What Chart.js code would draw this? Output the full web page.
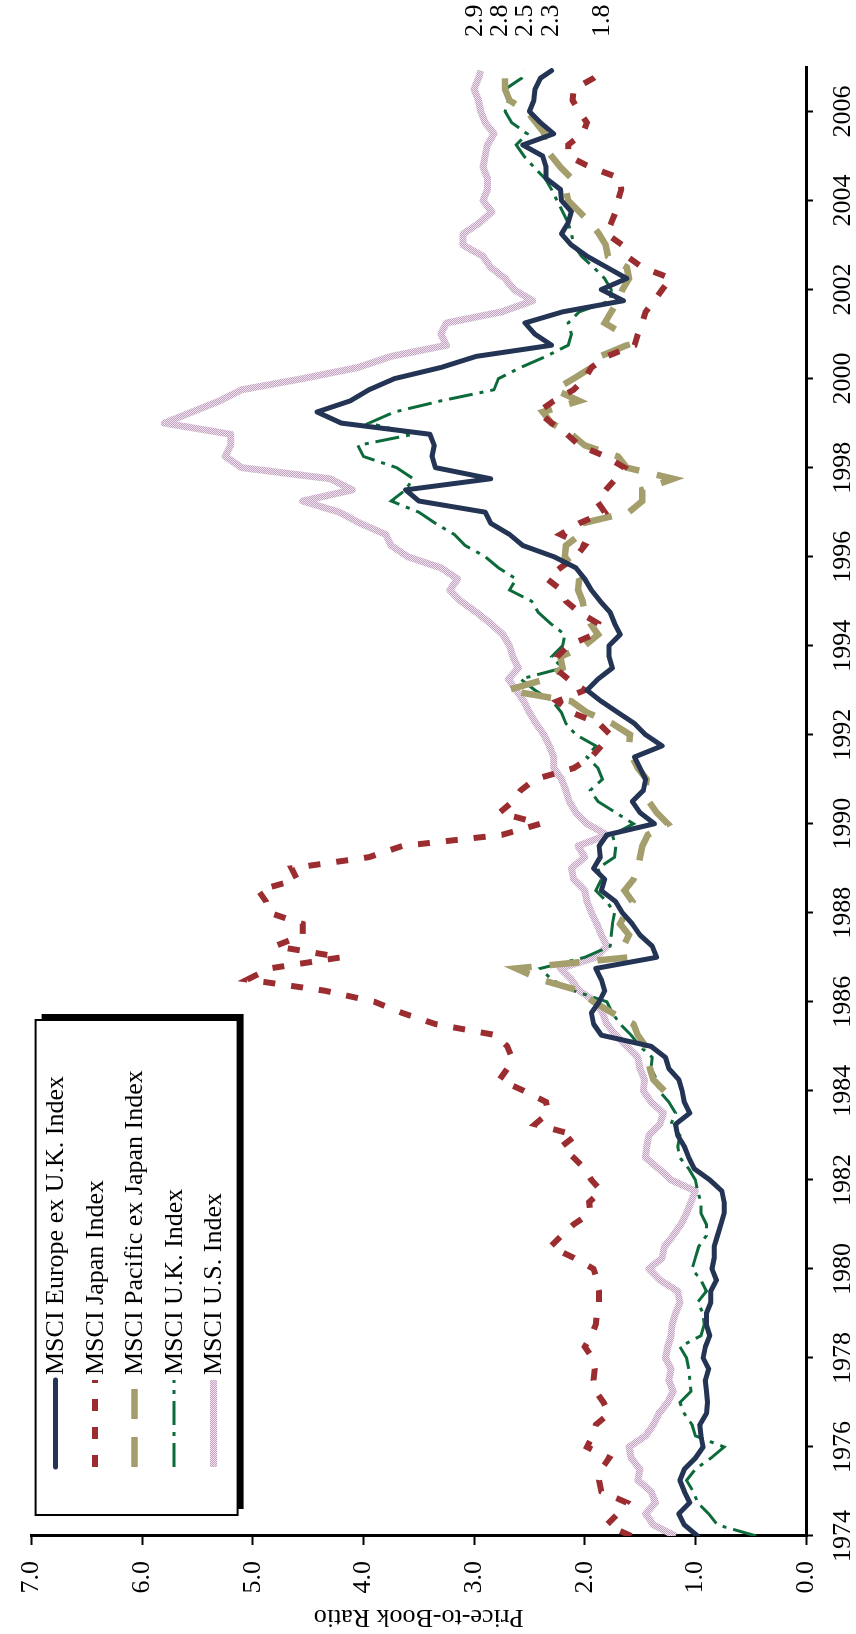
<!DOCTYPE html>
<html>
<head>
<meta charset="utf-8">
<script src="https://cdn.jsdelivr.net/npm/chart.js@4.4.0/dist/chart.umd.min.js"></script>
<style>
  html, body { margin:0; padding:0; background:#fff; overflow:hidden; }
  #page { position:relative; width:856px; height:1634px; overflow:hidden; background:#fff; }
  #rot { position:absolute; left:0; top:0; width:1634px; height:856px;
         transform-origin:0 0; transform:translateY(1634px) rotate(-90deg); }
  #pbChart { width:1634px; height:856px; display:block; }
</style>
</head>
<body>
<div id="page"><div id="rot"><canvas id="pbChart" width="1634" height="856"></canvas></div></div>
<script>
// quarterly observation dates (decimal years)
const quarters = [
  1974, 1974.25, 1974.5, 1974.75, 1975, 1975.25, 1975.5, 1975.75,
  1976, 1976.25, 1976.5, 1976.75, 1977, 1977.25, 1977.5, 1977.75,
  1978, 1978.25, 1978.5, 1978.75, 1979, 1979.25, 1979.5, 1979.75,
  1980, 1980.25, 1980.5, 1980.75, 1981, 1981.25, 1981.5, 1981.75,
  1982, 1982.25, 1982.5, 1982.75, 1983, 1983.25, 1983.5, 1983.75,
  1984, 1984.25, 1984.5, 1984.75, 1985, 1985.25, 1985.5, 1985.75,
  1986, 1986.25, 1986.5, 1986.75, 1987, 1987.25, 1987.5, 1987.75,
  1988, 1988.25, 1988.5, 1988.75, 1989, 1989.25, 1989.5, 1989.75,
  1990, 1990.25, 1990.5, 1990.75, 1991, 1991.25, 1991.5, 1991.75,
  1992, 1992.25, 1992.5, 1992.75, 1993, 1993.25, 1993.5, 1993.75,
  1994, 1994.25, 1994.5, 1994.75, 1995, 1995.25, 1995.5, 1995.75,
  1996, 1996.25, 1996.5, 1996.75, 1997, 1997.25, 1997.5, 1997.75,
  1998, 1998.25, 1998.5, 1998.75, 1999, 1999.25, 1999.5, 1999.75,
  2000, 2000.25, 2000.5, 2000.75, 2001, 2001.25, 2001.5, 2001.75,
  2002, 2002.25, 2002.5, 2002.75, 2003, 2003.25, 2003.5, 2003.75,
  2004, 2004.25, 2004.5, 2004.75, 2005, 2005.25, 2005.5, 2005.75,
  2006, 2006.25, 2006.5, 2006.75, 2006.92
];

const europeExUK = [
  0.98, 1.10, 1.15, 1.05, 1.10, 1.14, 1.10, 1.00,
  0.93, 0.95, 0.96, 0.90, 0.89, 0.90, 0.91, 0.88,
  0.93, 0.91, 0.87, 0.90, 0.90, 0.86, 0.86, 0.81,
  0.85, 0.83, 0.83, 0.80, 0.77, 0.74, 0.74, 0.76,
  0.87, 1.01, 1.06, 1.10, 1.16, 1.18, 1.05, 1.10,
  1.12, 1.15, 1.24, 1.27, 1.40, 1.85, 1.92, 1.94,
  1.87, 1.82, 1.85, 1.90, 1.35, 1.39, 1.50, 1.57,
  1.66, 1.72, 1.85, 1.82, 1.92, 1.86, 1.87, 1.80,
  1.37, 1.50, 1.57, 1.47, 1.45, 1.50, 1.55, 1.30,
  1.45, 1.55, 1.70, 1.85, 1.98, 1.88, 1.75, 1.78,
  1.78, 1.68, 1.73, 1.77, 1.86, 1.94, 2.00, 2.08,
  2.28, 2.56, 2.68, 2.85, 2.90, 3.50, 3.62, 2.85,
  3.35, 3.38, 3.36, 3.40, 4.20, 4.42, 4.12, 3.95,
  3.72, 3.30, 2.98, 2.30, 2.45, 2.54, 2.20, 1.65,
  1.85, 1.62, 1.80, 1.98, 2.12, 2.21, 2.15, 2.12,
  2.21, 2.22, 2.35, 2.35, 2.38, 2.56, 2.28, 2.40,
  2.50, 2.46, 2.45, 2.40, 2.30
];

const japan = [
  1.58, 1.80, 1.70, 1.62, 1.85, 1.87, 1.85, 1.78,
  1.98, 1.93, 1.90, 1.78, 1.83, 1.90, 1.92, 1.91,
  1.93, 2.00, 1.94, 1.90, 1.89, 1.87, 1.87, 1.89,
  1.92, 2.10, 2.31, 2.21, 2.10, 1.95, 1.96, 1.85,
  1.94, 2.00, 2.10, 2.21, 2.08, 2.45, 2.33, 2.35,
  2.55, 2.77, 2.70, 2.66, 2.70, 2.80, 3.35, 3.65,
  3.90, 4.35, 5.05, 4.85, 4.20, 4.80, 4.55, 4.55,
  4.85, 4.88, 4.95, 4.60, 4.65, 3.95, 3.65, 2.75,
  2.40, 2.77, 2.65, 2.58, 2.45, 2.10, 1.94, 1.85,
  1.77, 1.87, 2.12, 2.25, 2.00, 2.15, 2.27, 2.25,
  2.15, 1.92, 1.88, 2.05, 2.17, 2.21, 2.34, 2.22,
  2.08, 2.00, 2.22, 2.05, 1.82, 1.89, 1.81, 1.72,
  1.64, 1.81, 2.05, 2.16, 2.30, 2.42, 2.28, 2.10,
  2.00, 1.94, 1.80, 1.55, 1.52, 1.48, 1.45, 1.37,
  1.30, 1.22, 1.48, 1.62, 1.66, 1.80, 1.76, 1.72,
  1.70, 1.67, 1.68, 1.95, 2.15, 2.15, 2.02, 1.98,
  2.05, 2.11, 2.10, 1.92, 1.84
];

const pacificExJapan = [
  null, null, null, null, null, null, null, null,
  null, null, null, null, null, null, null, null,
  null, null, null, null, null, null, null, null,
  null, null, null, null, null, null, null, null,
  null, null, null, null, null, null, null, null,
  1.28, 1.38, 1.41, 1.43, 1.45, 1.52, 1.56, 1.75,
  1.92, 2.05, 2.40, 2.62, 1.60, 1.65, 1.60, 1.68,
  1.63, 1.57, 1.64, 1.56, 1.52, 1.50, 1.48, 1.43,
  1.25, 1.35, 1.42, 1.45, 1.44, 1.52, 1.57, 1.60,
  1.59, 1.75, 1.98, 2.12, 2.70, 2.35, 2.20, 2.22,
  2.00, 1.88, 1.95, 2.00, 2.02, 2.06, 2.05, 2.10,
  2.18, 2.17, 2.04, 2.02, 1.60, 1.48, 1.48, 1.20,
  1.62, 1.70, 2.00, 2.12, 2.30, 2.38, 2.05, 2.27,
  2.10, 1.94, 1.86, 1.62, 1.65, 1.82, 1.76, 1.70,
  1.66, 1.60, 1.62, 1.79, 1.81, 1.87, 1.95, 2.05,
  2.15, 2.17, 2.12, 2.22, 2.30, 2.38, 2.36, 2.44,
  2.52, 2.68, 2.72, 2.72, 2.80
];

const unitedKingdom = [
  0.45, 0.80, 0.88, 0.98, 1.02, 1.08, 1.00, 0.86,
  0.74, 1.00, 1.03, 1.10, 1.14, 1.04, 1.05, 1.06,
  1.08, 1.14, 0.95, 0.92, 0.93, 0.98, 0.90, 0.95,
  1.03, 1.00, 0.97, 0.90, 0.90, 0.95, 0.95, 0.98,
  1.00, 1.06, 1.14, 1.16, 1.14, 1.22, 1.18, 1.24,
  1.33, 1.35, 1.40, 1.39, 1.50, 1.58, 1.68, 1.75,
  1.80, 2.10, 2.30, 2.40, 2.00, 1.77, 1.76, 1.75,
  1.73, 1.80, 1.90, 1.85, 1.88, 1.73, 1.72, 1.75,
  1.56, 1.72, 1.88, 1.95, 1.84, 1.88, 1.98, 1.90,
  2.08, 2.17, 2.21, 2.29, 2.45, 2.58, 2.20, 2.30,
  2.20, 2.18, 2.31, 2.42, 2.48, 2.68, 2.62, 2.78,
  2.90, 3.08, 3.18, 3.35, 3.50, 3.75, 3.62, 3.55,
  3.70, 4.00, 4.05, 3.55, 3.95, 3.72, 3.30, 2.82,
  2.78, 2.58, 2.35, 2.15, 2.12, 2.15, 2.05, 1.77,
  1.76, 1.82, 1.92, 2.03, 2.10, 2.12, 2.15, 2.20,
  2.25, 2.30, 2.36, 2.46, 2.55, 2.62, 2.52, 2.66,
  2.72, 2.69, 2.72, 2.57, 2.55
];

const unitedStates = [
  1.18, 1.38, 1.45, 1.36, 1.40, 1.52, 1.50, 1.58,
  1.60, 1.45, 1.38, 1.33, 1.25, 1.20, 1.24, 1.22,
  1.27, 1.25, 1.22, 1.21, 1.18, 1.14, 1.16, 1.32,
  1.42, 1.30, 1.28, 1.20, 1.13, 1.08, 1.04, 1.00,
  1.22, 1.33, 1.45, 1.44, 1.42, 1.32, 1.29, 1.40,
  1.47, 1.46, 1.50, 1.52, 1.62, 1.72, 1.80, 1.84,
  1.90, 2.05, 2.12, 2.22, 1.90, 1.80, 1.85, 1.89,
  1.94, 1.98, 2.00, 2.10, 2.12, 2.00, 2.06, 1.80,
  1.98, 2.08, 2.14, 2.17, 2.21, 2.28, 2.28, 2.32,
  2.37, 2.44, 2.50, 2.55, 2.62, 2.69, 2.60, 2.65,
  2.68, 2.74, 2.85, 2.98, 3.12, 3.22, 3.15, 3.30,
  3.60, 3.75, 3.80, 4.03, 4.22, 4.55, 4.10, 4.30,
  5.10, 5.25, 5.20, 5.20, 5.80, 5.55, 5.30, 5.10,
  4.55, 4.05, 3.75, 3.25, 3.30, 3.25, 2.75, 2.47,
  2.64, 2.72, 2.85, 2.92, 3.10, 3.10, 2.95, 2.84,
  2.92, 2.88, 2.88, 2.92, 2.90, 2.88, 2.82, 2.90,
  2.94, 2.96, 3.00, 2.96, 2.94
];

const seriesNames = [
  'MSCI Europe ex U.K. Index',
  'MSCI Japan Index',
  'MSCI Pacific ex Japan Index',
  'MSCI U.K. Index',
  'MSCI U.S. Index'
];
// end-of-period values as printed beside the last observation
const endLabels = ['2.3', '1.8', '2.8', '2.5', '2.9'];

const yearTicks = [1974, 1976, 1978, 1980, 1982, 1984, 1986, 1988, 1990,
                   1992, 1994, 1996, 1998, 2000, 2002, 2004, 2006];
const ratioTicks = [0, 1, 2, 3, 4, 5, 6, 7];
const ratioTickLabels = ['0.0', '1.0', '2.0', '3.0', '4.0', '5.0', '6.0', '7.0'];

const FONT = '"Liberation Serif", "Times New Roman", serif';
const FONT_SIZE = 26;

function usPattern(){
  const c = document.createElement('canvas');
  c.width = 2; c.height = 2;
  const g = c.getContext('2d');
  g.fillStyle = '#efe4ee'; g.fillRect(0, 0, 2, 2);
  g.fillStyle = '#c2a2c1'; g.fillRect(0, 0, 1, 1); g.fillRect(1, 1, 1, 1);
  return g.createPattern(c, 'repeat');
}

function toPoints(values){
  return quarters.map((x, i) => ({x: x, y: values[i]}));
}

// spread overlapping end labels apart, keeping each cluster centred
function spreadLabels(items, gap){
  items.sort((a, b) => a.y - b.y);
  let groups = items.map(it => ({members: [it], center: it.y}));
  let merged = true;
  while (merged) {
    merged = false;
    for (let i = 0; i < groups.length - 1; i++) {
      const a = groups[i], b = groups[i + 1];
      const aEnd = a.center + (a.members.length - 1) * gap / 2;
      const bStart = b.center - (b.members.length - 1) * gap / 2;
      if (bStart - aEnd < gap) {
        const members = a.members.concat(b.members);
        const center = members.reduce((s, m) => s + m.y, 0) / members.length;
        groups.splice(i, 2, {members, center});
        merged = true;
        break;
      }
    }
  }
  groups.forEach(g => g.members.forEach((m, k) => {
    m.ly = g.center + (k - (g.members.length - 1) / 2) * gap;
  }));
  return items;
}

const endLabelPlugin = {
  id: 'endLabels',
  afterDatasetsDraw(chart){
    const ctx = chart.ctx;
    const yScale = chart.scales.y;
    const items = chart.data.datasets.map((ds, i) => {
      const pts = ds.data.filter(p => p.y !== null);
      return {text: endLabels[i], y: yScale.getPixelForValue(pts[pts.length - 1].y)};
    });
    spreadLabels(items, 25);
    ctx.save();
    ctx.fillStyle = '#000';
    ctx.font = `${FONT_SIZE}px ${FONT}`;
    ctx.textAlign = 'left';
    ctx.textBaseline = 'middle';
    items.forEach(it => ctx.fillText(it.text, chart.chartArea.right + 30, it.ly));
    ctx.restore();
  }
};

const boxLegendPlugin = {
  id: 'boxLegend',
  afterDraw(chart){
    const ctx = chart.ctx;
    const area = chart.chartArea;
    const x = area.left + 21, y = area.top + 4, w = 495, h = 202;
    ctx.save();
    ctx.fillStyle = '#000';
    ctx.fillRect(x + 6, y + 6, w, h);
    ctx.fillStyle = '#fff';
    ctx.fillRect(x, y, w, h);
    ctx.lineWidth = 2;
    ctx.strokeStyle = '#000';
    ctx.strokeRect(x, y, w, h);
    chart.data.datasets.forEach((ds, i) => {
      const ry = y + 20 + i * 39.5;
      ctx.beginPath();
      ctx.strokeStyle = ds.borderColor;
      ctx.lineWidth = ds.borderWidth;
      ctx.lineCap = ds.borderCapStyle || 'butt';
      ctx.setLineDash(ds.borderDash || []);
      ctx.moveTo(x + 48, ry);
      ctx.lineTo(x + 135, ry);
      ctx.stroke();
      ctx.setLineDash([]);
      ctx.fillStyle = '#000';
      ctx.font = `${FONT_SIZE}px ${FONT}`;
      ctx.textAlign = 'left';
      ctx.textBaseline = 'middle';
      ctx.fillText(ds.label, x + 140, ry + 1);
    });
    ctx.restore();
  }
};

function initChart(){
  const el = document.getElementById('pbChart');
  Chart.defaults.font.family = FONT;
  Chart.defaults.font.size = FONT_SIZE;
  Chart.defaults.color = '#000';

  const lineBase = {pointRadius: 0, pointHoverRadius: 0, tension: 0, fill: false, spanGaps: false};

  new Chart(el, {
    type: 'line',
    data: {
      datasets: [
        {...lineBase, label: seriesNames[0], data: toPoints(europeExUK),
         borderColor: '#233454', borderWidth: 5, borderCapStyle: 'round', borderJoinStyle: 'round'},
        {...lineBase, label: seriesNames[1], data: toPoints(japan),
         borderColor: '#9b2d30', borderWidth: 6, borderDash: [12, 16]},
        {...lineBase, label: seriesNames[2], data: toPoints(pacificExJapan),
         borderColor: '#a39e6b', borderWidth: 6.5, borderDash: [30, 18]},
        {...lineBase, label: seriesNames[3], data: toPoints(unitedKingdom),
         borderColor: '#0d6b3b', borderWidth: 3, borderDash: [24, 7, 4, 7]},
        {...lineBase, label: seriesNames[4], data: toPoints(unitedStates),
         borderColor: usPattern(), borderWidth: 7, borderJoinStyle: 'round'}
      ]
    },
    options: {
      responsive: false,
      animation: false,
      devicePixelRatio: 1,
      layout: {padding: {left: 0, top: 23, right: 67, bottom: 0}},
      plugins: {legend: {display: false}, tooltip: {enabled: false}},
      scales: {
        x: {
          type: 'linear', min: 1974, max: 2007,
          afterFit(scale){ scale.height = 50; },
          afterBuildTicks(scale){ scale.ticks = yearTicks.map(v => ({value: v})); },
          grid: {drawOnChartArea: false, drawTicks: true, tickLength: 7, tickWidth: 2, tickColor: '#000'},
          border: {display: true, color: '#000', width: 3},
          ticks: {autoSkip: false, maxRotation: 0, minRotation: 0, padding: 15,
                  callback: v => String(v)}
        },
        y: {
          min: 0, max: 7,
          afterFit(scale){ scale.width = 98; },
          afterBuildTicks(scale){ scale.ticks = ratioTicks.map(v => ({value: v})); },
          grid: {drawOnChartArea: false, drawTicks: true, tickLength: 9, tickWidth: 2, tickColor: '#000'},
          border: {display: true, color: '#000', width: 3},
          ticks: {autoSkip: false, padding: 16,
                  callback: v => ratioTickLabels[ratioTicks.indexOf(v)]},
          title: {display: true, text: 'Price-to-Book Ratio', padding: {top: 2, bottom: 0}}
        }
      }
    },
    plugins: [endLabelPlugin, boxLegendPlugin]
  });
}

window.addEventListener('DOMContentLoaded', initChart);
</script>
</body>
</html>
